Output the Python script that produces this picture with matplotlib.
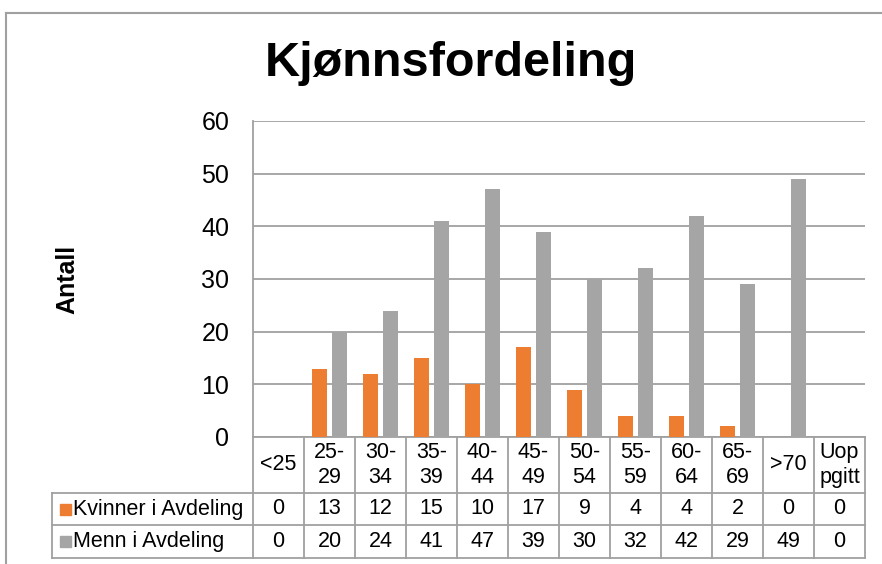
import numpy as np
import matplotlib.pyplot as plt
from matplotlib.lines import Line2D
from matplotlib.patches import Rectangle

plt.rcParams['font.family'] = ['Liberation Sans', 'DejaVu Sans']

categories = ['<25', '25-\n29', '30-\n34', '35-\n39', '40-\n44', '45-\n49',
              '50-\n54', '55-\n59', '60-\n64', '65-\n69', '>70', 'Uop\npgitt']
kvinner = [0, 13, 12, 15, 10, 17, 9, 4, 4, 2, 0, 0]
menn = [0, 20, 24, 41, 47, 39, 30, 32, 42, 29, 49, 0]
series_names = ['Kvinner i Avdeling', 'Menn i Avdeling']
colors = ['#ED7D31', '#A5A5A5']
line_color = '#A0A0A0'

W, H = 882, 564
fig = plt.figure(figsize=(W / 100, H / 100), dpi=100)

# plot area in pixels
left, right, top, bottom = 253, 865, 121, 437
ax = fig.add_axes([left / W, (H - bottom) / H, (right - left) / W, (bottom - top) / H])

x = np.arange(len(categories))
bw = 0.31
off = 0.195
ax.bar(x - off, kvinner, bw, color=colors[0], zorder=3)
ax.bar(x + off, menn, bw, color=colors[1], zorder=3)

ax.set_xlim(-0.5, len(categories) - 0.5)
ax.set_ylim(0, 60)
ax.set_yticks(range(0, 61, 10))
ax.tick_params(axis='y', length=0, labelsize=18, pad=17)
ax.set_xticks([])
ax.grid(axis='y', color=line_color, linewidth=1.3, zorder=0)
for s in ['top', 'right']:
    ax.spines[s].set_visible(False)
for s in ['left', 'bottom']:
    ax.spines[s].set_color(line_color)
    ax.spines[s].set_linewidth(1.3)
ax.set_ylabel('Antall', fontsize=18, fontweight='bold', labelpad=88)

# data table below the axes
ph = bottom - top
def ay(ypix):
    return (bottom - ypix) / ph

tr = ax.get_xaxis_transform()
y_head, y_r1, y_r2 = ay(493), ay(525), ay(558)
lbl_left = (52 - left) / (right - left) * len(categories) - 0.5
lk = dict(color=line_color, linewidth=1.3, transform=tr, clip_on=False)

for k in range(len(categories) + 1):
    ax.add_line(Line2D([k - 0.5, k - 0.5], [0, y_r2], **lk))
for yy in [y_head, y_r1, y_r2]:
    ax.add_line(Line2D([lbl_left, len(categories) - 0.5], [yy, yy], **lk))
ax.add_line(Line2D([lbl_left, lbl_left], [y_head, y_r2], **lk))

for i, c in enumerate(categories):
    ax.text(i, y_head / 2, c, transform=tr, ha='center', va='center',
            fontsize=15.5, linespacing=1.25)

rows = [kvinner, menn]
row_mid = [(y_head + y_r1) / 2, (y_r1 + y_r2) / 2]
key_x = lbl_left + 0.15
for r, vals in enumerate(rows):
    for i, v in enumerate(vals):
        ax.text(i, row_mid[r], str(v), transform=tr, ha='center', va='center',
                fontsize=15.5)
    ax.text(key_x + 0.27, row_mid[r], series_names[r], transform=tr,
            ha='left', va='center', fontsize=15.5)
    ksz = 11 / ph
    ax.add_patch(Rectangle((key_x, row_mid[r] - ksz / 2), 0.22, ksz,
                           color=colors[r], transform=tr, clip_on=False))

fig.text(451 / W, 1 - 64 / H, 'Kjønnsfordeling', ha='center', va='center',
         fontsize=35, fontweight='bold')

# outer chart frame
fig.add_artist(Line2D([6 / W, 6 / W], [0, 1 - 13 / H], color=line_color,
                      linewidth=1.5, transform=fig.transFigure))
fig.add_artist(Line2D([6 / W, 1], [1 - 13 / H, 1 - 13 / H], color=line_color,
                      linewidth=1.5, transform=fig.transFigure))

fig.savefig('out.png', dpi=100)
